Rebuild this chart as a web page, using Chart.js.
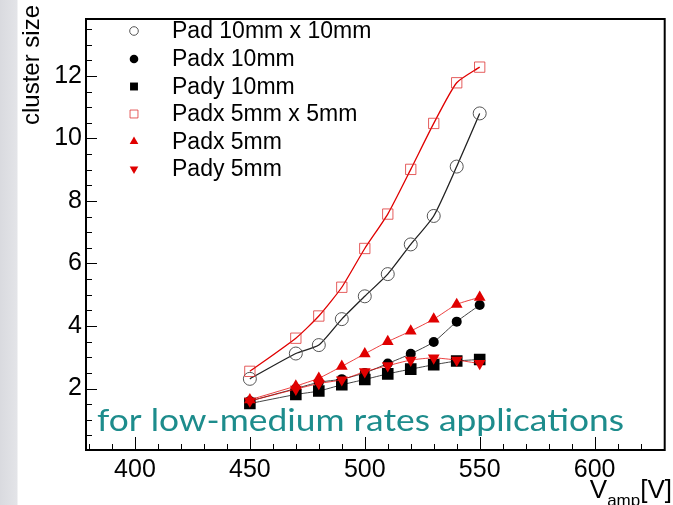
<!DOCTYPE html>
<html>
<head>
<meta charset="utf-8">
<script src="https://cdn.jsdelivr.net/npm/chart.js@4.4.1/dist/chart.umd.min.js"></script>
<style>
  html, body { margin: 0; padding: 0; }
  body {
    width: 673px; height: 505px; overflow: hidden;
    background: linear-gradient(to right, #d9dadf 0px, #e3e4e8 17px, #ffffff 18px);
  }
  #wrap { position: relative; width: 673px; height: 505px; }
</style>
</head>
<body>
<div id="wrap"><canvas id="clusterChart"></canvas></div>
<script>
// amplification voltage (V)
const voltages = [450, 470, 480, 490, 500, 510, 520, 530, 540, 550];

// cluster size per readout configuration
const pad10x10 = [2.31, 3.12, 3.39, 4.22, 4.95, 5.66, 6.61, 7.52, 9.10, 10.80];
const padx10   = [1.60, 2.00, 2.20, 2.30, 2.50, 2.80, 3.11, 3.49, 4.14, 4.67];
const pady10   = [1.52, 1.81, 1.92, 2.12, 2.29, 2.47, 2.62, 2.76, 2.88, 2.93];
const padx5x5  = [2.55, 3.61, 4.32, 5.24, 6.48, 7.58, 9.01, 10.48, 11.78, 12.28];
const padx5    = [1.64, 2.08, 2.33, 2.71, 3.11, 3.50, 3.84, 4.22, 4.69, 4.92];
const pady5    = [1.60, 1.98, 2.16, 2.28, 2.54, 2.73, 2.91, 2.98, 2.91, 2.80];

const seriesLabels = ["Pad 10mm x 10mm", "Padx 10mm", "Pady 10mm",
                      "Padx 5mm x 5mm", "Padx 5mm", "Pady 5mm"];

const xTickValues = [400, 450, 500, 550, 600];
const yTickValues = [2, 4, 6, 8, 10, 12];

const note = "for low-medium rates applications";

const SANS = "'Liberation Sans', Arial, sans-serif";

function toPoints(vals) {
    return voltages.map((v, i) => ({ x: v, y: vals[i] }));
}

const datasets = [
    {
        label: seriesLabels[0], data: toPoints(pad10x10),
        borderColor: "#222", borderWidth: 1.3,
        pointStyle: "circle", pointRadius: 6.5,
        pointBackgroundColor: "rgba(0,0,0,0)", pointBorderColor: "#555", pointBorderWidth: 1,
        order: 3,
    },
    {
        label: seriesLabels[1], data: toPoints(padx10),
        borderColor: "#444", borderWidth: 1,
        pointStyle: "circle", pointRadius: 5,
        pointBackgroundColor: "#000", pointBorderColor: "#000", pointBorderWidth: 0,
        order: 4,
    },
    {
        label: seriesLabels[2], data: toPoints(pady10),
        borderColor: "#444", borderWidth: 1,
        pointStyle: "rect", pointRadius: 8.2,
        pointBackgroundColor: "#000", pointBorderColor: "#000", pointBorderWidth: 0,
        order: 5,
    },
    {
        label: seriesLabels[3], data: toPoints(padx5x5),
        borderColor: "#e00000", borderWidth: 1.3,
        pointStyle: "rect", pointRadius: 7.3,
        pointBackgroundColor: "rgba(0,0,0,0)", pointBorderColor: "rgba(220,40,40,0.75)", pointBorderWidth: 1,
        order: 2,
    },
    {
        label: seriesLabels[4], data: toPoints(padx5),
        borderColor: "rgba(230,0,0,0.75)", borderWidth: 1,
        pointStyle: "triangle", pointRadius: 6.8,
        pointBackgroundColor: "#e00000", pointBorderColor: "#e00000", pointBorderWidth: 0,
        order: 1,
    },
    {
        label: seriesLabels[5], data: toPoints(pady5),
        borderColor: "rgba(230,0,0,0.75)", borderWidth: 1,
        pointStyle: "triangle", pointRotation: 180, pointRadius: 6.8,
        pointBackgroundColor: "#e00000", pointBorderColor: "#e00000", pointBorderWidth: 0,
        order: 0,
    },
];

// inward ROOT-style ticks, frame, legend box, titles and the note
const rootStyle = {
    id: "rootStyle",
    beforeDatasetsDraw(chart) {
        const ctx = chart.ctx;
        ctx.save();
        ctx.fillStyle = "#1d8c8c";
        ctx.font = "30px Lato";
        ctx.textAlign = "left";
        ctx.textBaseline = "alphabetic";
        // stretch sideways to the width of the original's wide geometric face
        const w = ctx.measureText(note).width;
        ctx.translate(97, 431);
        ctx.scale(527 / w, 1);
        ctx.fillText(note, 0, 0);
        ctx.restore();
    },
    afterDatasetsDraw(chart) {
        const ctx = chart.ctx;
        const a = chart.chartArea;
        const xs = chart.scales.x, ys = chart.scales.y;
        ctx.save();
        ctx.strokeStyle = "#000";
        ctx.lineWidth = 1;
        // x ticks
        for (let v = 380; v <= 630; v += 10) {
            const px = Math.round(xs.getPixelForValue(v)) + 0.5;
            const len = v % 50 === 0 ? 13 : 6;
            ctx.beginPath();
            ctx.moveTo(px, a.bottom);
            ctx.lineTo(px, a.bottom - len);
            ctx.stroke();
        }
        // y ticks
        for (let v = 0.5; v <= 13.5; v += 0.5) {
            const py = Math.round(ys.getPixelForValue(v)) + 0.5;
            const len = v % 2 === 0 ? 11 : 6;
            ctx.beginPath();
            ctx.moveTo(a.left, py);
            ctx.lineTo(a.left + len, py);
            ctx.stroke();
        }
        // frame
        ctx.lineWidth = 2;
        ctx.strokeRect(a.left, a.top, a.right - a.left, a.bottom - a.top);

        // legend
        const rowY = [31, 59, 86.5, 114, 141.5, 169];
        chart.data.datasets.forEach((ds, i) => {
            ctx.save();
            ctx.fillStyle = ds.pointBackgroundColor;
            ctx.strokeStyle = ds.pointBorderColor;
            ctx.lineWidth = ds.pointBorderWidth || 0.001;
            Chart.helpers.drawPoint(ctx, {
                pointStyle: ds.pointStyle,
                rotation: ds.pointRotation || 0,
                radius: ds.pointStyle === "rect" ? 5.6 : ds.pointStyle === "triangle" ? 5 : 4.3,
                borderWidth: ds.pointBorderWidth,
            }, 134, rowY[i]);
            ctx.restore();
            ctx.fillStyle = "#000";
            ctx.font = "23px " + SANS;
            ctx.textAlign = "left";
            ctx.textBaseline = "middle";
            ctx.fillText(ds.label, 172, rowY[i] + 1);
        });

        // y title
        ctx.save();
        ctx.translate(39, 5);
        ctx.rotate(-Math.PI / 2);
        ctx.fillStyle = "#000";
        ctx.font = "24px " + SANS;
        ctx.textAlign = "right";
        ctx.textBaseline = "alphabetic";
        ctx.fillText("cluster size", 0, 0);
        ctx.restore();

        // x title V_amp[V]
        ctx.fillStyle = "#000";
        ctx.textBaseline = "alphabetic";
        ctx.textAlign = "right";
        const big = "26px " + SANS;
        const small = "17px " + SANS;
        let xr = 672;
        ctx.font = big;
        ctx.fillText("[V]", xr, 498);
        xr -= ctx.measureText("[V]").width;
        ctx.font = small;
        ctx.fillText("amp", xr, 506);
        xr -= ctx.measureText("amp").width;
        ctx.font = big;
        ctx.fillText("V", xr, 498);
        ctx.restore();
    },
};

const ctx = document.getElementById("clusterChart").getContext("2d");
new Chart(ctx, {
    type: "line",
    data: { datasets: datasets },
    options: {
        responsive: true,
        maintainAspectRatio: false,
        animation: false,
        layout: { padding: { left: 0, right: 3, top: 6, bottom: 0 } },
        elements: { line: { tension: 0.2, fill: false } },
        scales: {
            x: {
                type: "linear",
                min: 378.7,
                max: 630.5,
                grid: { display: false, drawTicks: false },
                border: { display: false },
                afterBuildTicks: (s) => { s.ticks = xTickValues.map((v) => ({ value: v })); },
                afterFit: (s) => { s.height = 55; },
                ticks: {
                    color: "#000",
                    padding: 5,
                    maxRotation: 0,
                    font: { family: SANS, size: 25 },
                },
            },
            y: {
                type: "linear",
                min: 0.034,
                max: 13.82,
                grid: { display: false, drawTicks: false },
                border: { display: false },
                afterBuildTicks: (s) => { s.ticks = yTickValues.map((v) => ({ value: v })); },
                afterFit: (s) => { s.width = 86; },
                ticks: {
                    color: "#000",
                    padding: 4,
                    font: { family: SANS, size: 25 },
                },
            },
        },
        plugins: {
            legend: { display: false },
            tooltip: { enabled: false },
        },
    },
    plugins: [rootStyle],
});
</script>
</body>
</html>
